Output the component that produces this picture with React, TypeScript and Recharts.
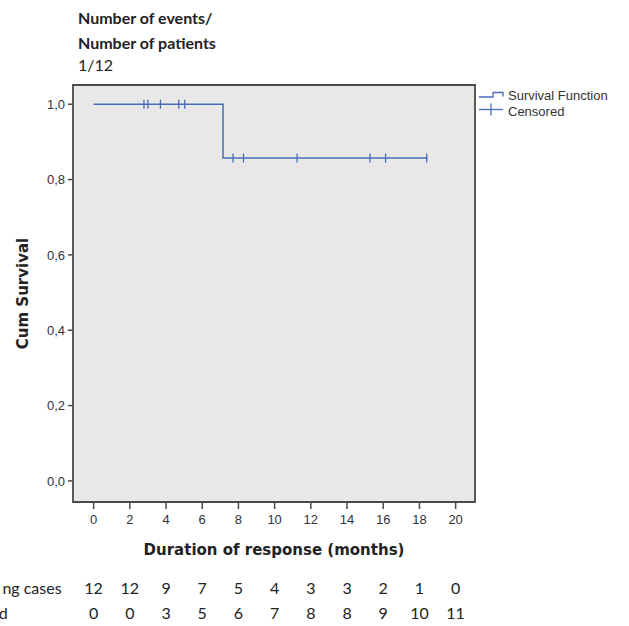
import React from 'react';
import {
  ComposedChart,
  Line,
  Scatter,
  XAxis,
  YAxis,
  ReferenceArea,
} from 'recharts';

// ---- data ----
const survivalCurve = [
  { t: 0, s: 1 },
  { t: 7.15, s: 0.857 },
  { t: 18.45, s: 0.857 },
];
const censoredPoints = [
  { t: 2.78, s: 1 },
  { t: 3.0, s: 1 },
  { t: 3.69, s: 1 },
  { t: 4.7, s: 1 },
  { t: 5.03, s: 1 },
  { t: 7.7, s: 0.857 },
  { t: 8.28, s: 0.857 },
  { t: 11.24, s: 0.857 },
  { t: 15.27, s: 0.857 },
  { t: 16.13, s: 0.857 },
  { t: 18.4, s: 0.857 },
];
const xTicks = [0, 2, 4, 6, 8, 10, 12, 14, 16, 18, 20];
const yTicks = [0, 0.2, 0.4, 0.6, 0.8, 1.0];
const remainingCases = [12, 12, 9, 7, 5, 4, 3, 3, 2, 1, 0];
const censoredCounts = [0, 0, 3, 5, 6, 7, 8, 8, 9, 10, 11];
const rowLabels = ['ng cases', 'd'];

const X_DOMAIN: [number, number] = [-1.14, 21.07];
const Y_DOMAIN: [number, number] = [-0.056, 1.051];

const BLUE = '#4a6cb8';
const AXIS = '#4a4a4a';
const TEXT = '#222';

const CensorMark = (props: any) => {
  const { cx, cy } = props;
  if (cx == null || cy == null) return null;
  return <line x1={cx} x2={cx} y1={cy - 4.5} y2={cy + 4.5} stroke={BLUE} strokeWidth={1.3} />;
};

const RiskTick = (props: any) => {
  const { x, y, index } = props;
  const f = { fontFamily: 'Lato, "Open Sans", sans-serif', fontSize: 16, fill: TEXT };
  return (
    <g>
      <text x={x} y={y + 31.5} textAnchor="middle" {...f}>
        {remainingCases[index]}
      </text>
      <text x={x} y={y + 56.5} textAnchor="middle" {...f}>
        {censoredCounts[index]}
      </text>
      {index === 0 && (
        <>
          <text x={x - 32} y={y + 31.5} textAnchor="end" {...f}>
            {rowLabels[0]}
          </text>
          <text x={x - 86} y={y + 56.5} textAnchor="end" {...f}>
            {rowLabels[1]}
          </text>
        </>
      )}
    </g>
  );
};

export default function App() {
  return (
    <div style={{ position: 'absolute', left: 0, top: 0, width: 629, height: 626, background: '#fff' }}>
      <div
        style={{
          position: 'absolute',
          left: 78,
          top: 6,
          fontFamily: 'Lato, "Open Sans", sans-serif',
          fontSize: 16,
          color: TEXT,
          lineHeight: '24.5px',
        }}
      >
        <div style={{ fontWeight: 700 }}>Number of events/</div>
        <div style={{ fontWeight: 700 }}>Number of patients</div>
        <div style={{ fontWeight: 400, lineHeight: '20px' }}>1/12</div>
      </div>

      <ComposedChart
        width={629}
        height={626}
        margin={{ top: 85, right: 154, left: 13, bottom: 0 }}
        style={{ position: 'absolute', left: 0, top: 0 }}
      >
        <XAxis
          xAxisId="main"
          dataKey="t"
          type="number"
          domain={X_DOMAIN}
          allowDataOverflow
          ticks={xTicks}
          interval={0}
          height={60}
          axisLine={false}
          tickSize={7}
          tickMargin={6}
          tickLine={{ stroke: AXIS, strokeWidth: 1.5 }}
          tick={{ fill: '#333', fontSize: 13, fontFamily: '"Liberation Sans", Arial, sans-serif' }}
          label={{
            content: (p: any) => {
              const vb = p.viewBox || {};
              return (
                <text
                  x={vb.x + vb.width / 2}
                  y={vb.y + 53}
                  textAnchor="middle"
                  fontFamily='"DejaVu Sans", sans-serif'
                  fontWeight={700}
                  fontSize={15}
                  fill={TEXT}
                >
                  Duration of response (months)
                </text>
              );
            },
          }}
        />
        <XAxis
          xAxisId="risk"
          dataKey="t"
          type="number"
          domain={X_DOMAIN}
          allowDataOverflow
          ticks={xTicks}
          interval={0}
          height={64}
          axisLine={false}
          tickLine={false}
          tickSize={0}
          tickMargin={0}
          tick={<RiskTick />}
        />
        <YAxis
          dataKey="s"
          type="number"
          domain={Y_DOMAIN}
          allowDataOverflow
          ticks={yTicks}
          interval={0}
          width={60}
          axisLine={false}
          tickSize={5}
          tickMargin={3}
          tickLine={{ stroke: AXIS, strokeWidth: 1.5 }}
          tickFormatter={(v: number) => v.toFixed(1).replace('.', ',')}
          tick={{ fill: '#333', fontSize: 13, fontFamily: '"Liberation Sans", Arial, sans-serif' }}
          label={{
            content: (p: any) => {
              const vb = p.viewBox || {};
              const cx = vb.x + 10;
              const cy = vb.y + vb.height / 2;
              return (
                <text
                  x={cx}
                  y={cy}
                  transform={`rotate(-90 ${cx} ${cy})`}
                  textAnchor="middle"
                  dominantBaseline="central"
                  fontFamily='"DejaVu Sans", sans-serif'
                  fontWeight={700}
                  fontSize={15}
                  fill={TEXT}
                >
                  Cum Survival
                </text>
              );
            },
          }}
        />
        <ReferenceArea
          xAxisId="main"
          x1={X_DOMAIN[0]}
          x2={X_DOMAIN[1]}
          y1={Y_DOMAIN[0]}
          y2={Y_DOMAIN[1]}
          fill="#e8e8e8"
          fillOpacity={1}
          stroke={AXIS}
          strokeWidth={1.8}
          ifOverflow="visible"
        />
        <Line
          xAxisId="main"
          data={survivalCurve}
          dataKey="s"
          type="stepAfter"
          stroke={BLUE}
          strokeWidth={1.5}
          dot={false}
          activeDot={false}
          isAnimationActive={false}
        />
        <Scatter
          xAxisId="main"
          data={censoredPoints}
          dataKey="s"
          shape={<CensorMark />}
          isAnimationActive={false}
        />
      </ComposedChart>

      <div style={{ position: 'absolute', left: 476, top: 86 }}>
        <svg width={150} height={34}>
          <polyline points="3,11 17,11 17,6.5 27,6.5 27,10.5" fill="none" stroke={BLUE} strokeWidth={1.3} />
          <line x1={3} x2={27} y1={23.5} y2={23.5} stroke={BLUE} strokeWidth={1.3} />
          <line x1={15} x2={15} y1={17.5} y2={29.5} stroke={BLUE} strokeWidth={1.3} />
          <text x={32} y={13.5} fontFamily='"Liberation Sans", Arial, sans-serif' fontSize={13} fill="#333">
            Survival Function
          </text>
          <text x={32} y={30} fontFamily='"Liberation Sans", Arial, sans-serif' fontSize={13} fill="#333">
            Censored
          </text>
        </svg>
      </div>
    </div>
  );
}
